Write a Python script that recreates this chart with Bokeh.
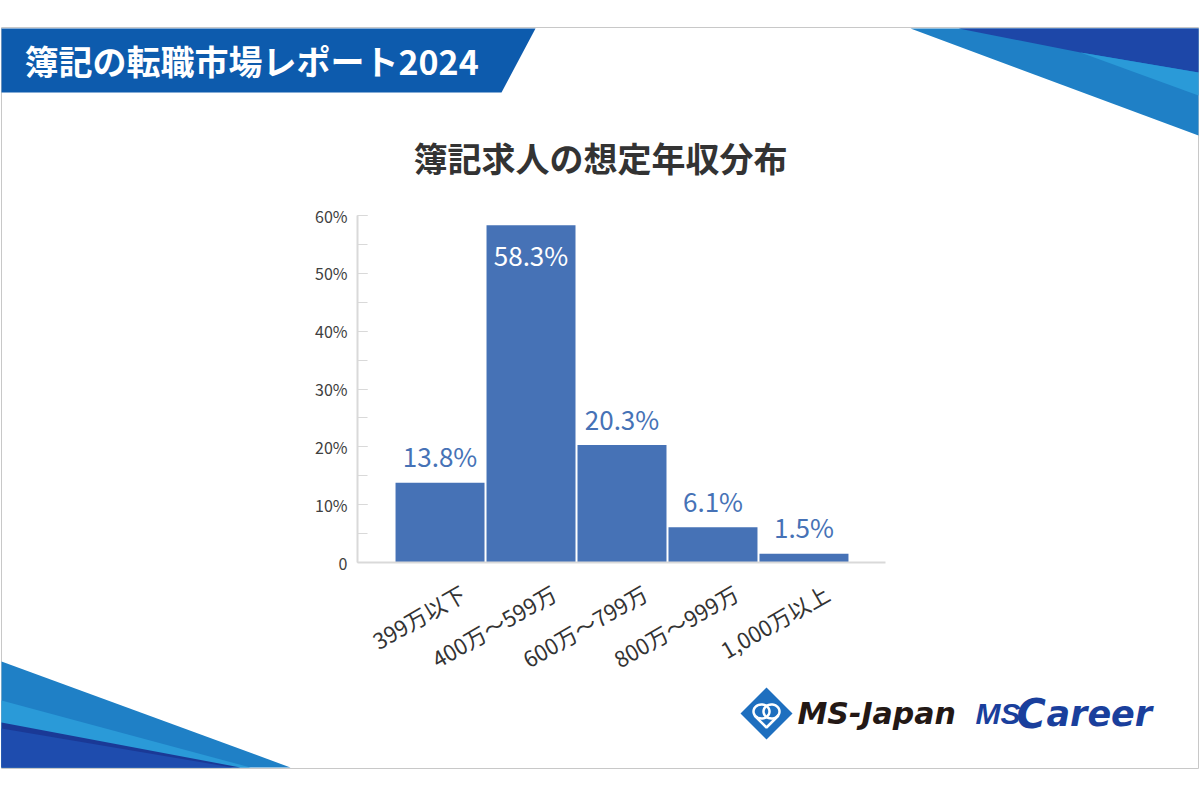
import math
import numpy as np
from bokeh.plotting import figure
from bokeh.models import (Range1d, ColumnDataSource, FixedTicker, SingleIntervalTicker,
                          PrintfTickFormatter, GridBox)
from bokeh.core.properties import value
from bokeh.embed import file_html
from bokeh.resources import INLINE

# ---- data ----
categories = ["399万以下", "400万～599万", "600万～799万", "800万～999万", "1,000万以上"]
shares = [13.8, 58.3, 20.3, 6.1, 1.5]
y_tick_step = 10
y_max = 60

header_title = "簿記の転職市場レポート2024"
chart_title = "簿記求人の想定年収分布"

FONT = "Noto Sans CJK JP"
BAR = "#4672b6"
W, H = 1200, 800

# ---------------- background page (decorations, titles, logos) ----------------
bg = figure(width=W, height=H, output_backend="svg", toolbar_location=None,
            x_range=Range1d(0, W), y_range=Range1d(H, 0),
            x_axis_location=None, y_axis_location=None, min_border=0)
bg.frame_align = False
bg.outline_line_color = None
bg.xgrid.visible = False
bg.ygrid.visible = False
bg.background_fill_color = "white"
bg.border_fill_color = "white"

# page frame
bg.patch([1, 1198, 1198, 1], [27, 27, 768, 768], fill_color=None, line_color="#c8c8c8", line_width=1)

# header banner
bg.patch([1, 535, 501, 1], [28, 28, 92, 92], fill_color="#0d5bad", line_color=None)
bg.text(x=[24], y=[60], text=[header_title], text_font=value(FONT), text_font_style="bold",
        text_font_size="34px", text_color="white", text_baseline="middle", text_align="left")

# top-right decoration
bg.patch([910, 1198, 1198], [28, 28, 135], fill_color="#1f80c6", line_color=None)
bg.patch([958, 1198, 1198, 1080], [28, 28, 72, 52], fill_color="#1d47a8", line_color=None)
bg.patch([1080, 1198, 1198], [52, 72, 95], fill_color="#2a9ad8", line_color=None)

# bottom-left decoration
bg.patch([1, 290, 1], [661, 767, 767], fill_color="#1f80c6", line_color=None)
bg.patch([1, 250, 1], [700, 767, 767], fill_color="#2a9ad8", line_color=None)
bg.patch([1, 240, 1], [722, 767, 767], fill_color="#1a3996", line_color=None)
bg.patch([1, 232, 1], [728, 767, 767], fill_color="#1e4cae", line_color=None)

# chart title
bg.text(x=[600], y=[157], text=[chart_title], text_font=value(FONT), text_font_style="bold",
        text_font_size="34px", text_color="#333333", text_align="center", text_baseline="middle")

# MS-Japan logo
cx, cy, r = 766, 713, 26
bg.patch([cx, cx + r, cx, cx - r], [cy - r, cy, cy + r, cy], fill_color="#1e6fbf", line_color=None)
t = np.linspace(0, 2 * np.pi, 40)
for dx in (-5, 5):
    bg.line(cx + dx + 8 * np.cos(t), cy - 2 + 7 * np.sin(t), line_color="white", line_width=2.5)
bg.line([cx - 12, cx, cx + 12], [cy + 2, cy + 14, cy + 2], line_color="white", line_width=2.5)

bg.text(x=[797], y=[713], text=["MS-Japan"], text_font=value("DejaVu Sans"), text_font_style="bold italic",
        text_font_size="30px", text_color="#231815", text_baseline="alphabetic")
bg.text(x=[975], y=[713], text=["MS"], text_font=value("Liberation Sans"), text_font_style="bold italic",
        text_font_size="30px", text_color="#1a3f9c", text_baseline="alphabetic")
bg.text(x=[1016], y=[713], text=["C"], text_font=value("DejaVu Sans"), text_font_style="bold italic",
        text_font_size="40px", text_color="#1a3f9c", text_baseline="alphabetic")
bg.text(x=[1046], y=[713], text=["areer"], text_font=value("DejaVu Sans"), text_font_style="bold italic",
        text_font_size="35px", text_color="#1a3f9c", text_baseline="alphabetic")

# ---------------- chart ----------------
idx = list(range(len(categories)))
inside = [v > 40 for v in shares]
src = ColumnDataSource(dict(
    x=idx, top=shares,
    label=[f"{v:.1f}%" for v in shares],
    color=["#ffffff" if i else BAR for i in inside],
    yoff=[29 if i else -27 for i in inside],
))

p = figure(width=W, height=H, output_backend="svg", toolbar_location=None,
           x_range=Range1d(-0.907, len(categories) - 1 + 0.896), y_range=Range1d(0, y_max),
           min_border_left=357, min_border_right=315, min_border_top=215, min_border_bottom=238)
p.frame_align = False
p.outline_line_color = None
p.xgrid.visible = False
p.ygrid.visible = False
p.background_fill_alpha = 0
p.border_fill_alpha = 0

p.vbar(x="x", top="top", width=0.978, source=src, fill_color=BAR, line_color=None)
p.text(x="x", y="top", text="label", source=src, text_color="color", y_offset="yoff",
       text_align="center", text_baseline="alphabetic", text_font_size="26px",
       text_font=value(FONT))

# y axis
ya = p.yaxis[0]
ya.ticker = SingleIntervalTicker(interval=y_tick_step, num_minor_ticks=2)
ya.formatter = PrintfTickFormatter(format="%d%%")
ya.major_label_overrides = {0: "0"}
ya.axis_line_color = "#d9d9d9"
ya.axis_line_width = 2
ya.major_tick_line_color = "#d9d9d9"
ya.minor_tick_line_color = "#d9d9d9"
ya.major_tick_in = 10
ya.major_tick_out = 0
ya.minor_tick_in = 10
ya.minor_tick_out = 0
ya.major_label_standoff = 10
ya.major_label_text_font = FONT
ya.major_label_text_font_size = "16px"
ya.major_label_text_color = "#404040"

# x axis
shift = 0.25
xa = p.xaxis[0]
xa.ticker = FixedTicker(ticks=[i + shift for i in idx])
xa.major_label_overrides = {i + shift: c for i, c in zip(idx, categories)}
xa.major_label_orientation = math.radians(30)
xa.axis_line_color = "#d9d9d9"
xa.axis_line_width = 2
xa.major_tick_line_color = None
xa.minor_tick_line_color = None
xa.major_label_standoff = 22
xa.major_label_text_font = FONT
xa.major_label_text_font_size = "22px"
xa.major_label_text_color = "#333333"

page = GridBox(children=[(bg, 0, 0), (p, 0, 0)], width=W, height=H)
open("out.html", "w").write(file_html(page, INLINE))
